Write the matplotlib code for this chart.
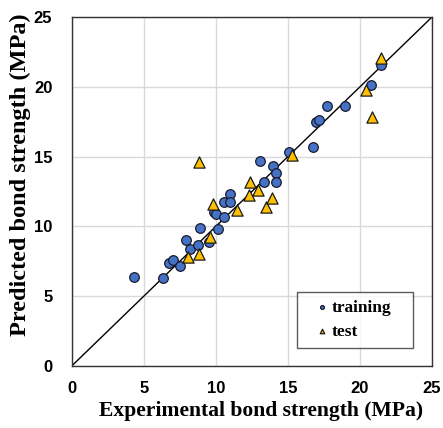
import numpy as np
import matplotlib.pyplot as plt

# training set (experimental, predicted) in MPa
train_exp = [4.3, 6.3, 6.75, 7.0, 7.5, 7.95, 8.2, 8.75, 8.9, 9.5, 10.15, 9.9, 10.0,
             10.55, 10.55, 10.95, 11.0, 13.1, 13.35, 13.95, 14.15, 14.15, 15.1,
             16.75, 16.95, 17.15, 17.75, 18.95, 20.8, 21.45]
train_pred = [6.4, 6.3, 7.35, 7.6, 7.15, 9.05, 8.4, 8.65, 9.9, 8.85, 9.85, 11.0, 10.9,
              10.7, 11.75, 12.35, 11.75, 14.7, 13.2, 14.3, 13.85, 13.2, 15.35,
              15.7, 17.45, 17.6, 18.65, 18.65, 20.15, 21.6]

test_exp = [8.05, 8.85, 8.8, 9.6, 9.8, 11.45, 12.3, 12.4, 12.9, 13.5, 13.9, 15.3,
            20.4, 20.85, 21.45]
test_pred = [7.8, 8.05, 14.6, 9.25, 11.6, 11.15, 12.25, 13.2, 12.6, 11.4, 12.05, 15.1,
             19.8, 17.85, 22.1]

ticks = [0, 5, 10, 15, 20, 25]

plt.rcParams['font.family'] = ['Liberation Serif', 'DejaVu Serif']
plt.rcParams['font.weight'] = 'bold'

fig = plt.figure(figsize=(4.43, 4.28), dpi=100)
ax = fig.add_axes([0.162, 0.145, 0.813, 0.815])

ax.plot([0, 25], [0, 25], color='black', lw=1, zorder=2)
ax.scatter(train_exp, train_pred, s=48, color='#4472C4', edgecolor='#1a1a2e',
           linewidth=0.9, label='training', zorder=3)
ax.scatter(test_exp, test_pred, s=65, marker='^', color='#FFC000', edgecolor='#1a1a1a',
           linewidth=0.9, label='test', zorder=4)

ax.set_xlim(0, 25)
ax.set_ylim(0, 25)
tick_font = dict(fontweight='bold', family=['Liberation Sans', 'DejaVu Sans'], fontsize=12)
ax.set_xticks(ticks, labels=[str(t) for t in ticks], **tick_font)
ax.set_yticks(ticks, labels=[str(t) for t in ticks], **tick_font)
ax.tick_params(length=0)
ax.tick_params(axis='x', pad=10.5)
ax.tick_params(axis='y', pad=14)
ax.grid(True, color='#d9d9d9', lw=1)
ax.set_axisbelow(True)
for sp in ax.spines.values():
    sp.set_color('#333333')
    sp.set_linewidth(1)

ax.set_xlabel('Experimental bond strength (MPa)', fontsize=15.6, fontweight='bold')
ax.set_ylabel('Predicted bond strength (MPa)', fontsize=17.5, fontweight='bold')
ax.xaxis.set_label_coords(0.525, -0.129, transform=ax.transAxes)
ax.yaxis.set_label_coords(-0.1415, 0.547, transform=ax.transAxes)
ax.xaxis.label.set_verticalalignment('center')
ax.yaxis.label.set_verticalalignment('center')

leg = ax.legend(loc='lower left', bbox_to_anchor=(0.625, 0.052, 0.322, 0.1), mode='expand',
                borderaxespad=0, fancybox=False, edgecolor='#333333', fontsize=12.5,
                markerscale=0.4, handletextpad=-0.4, borderpad=0.45, labelspacing=0.45,
                handlelength=1.94)
leg.get_frame().set_linewidth(1)
for t in leg.get_texts():
    t.set_fontweight('bold')

fig.savefig('out.png', dpi=100)
